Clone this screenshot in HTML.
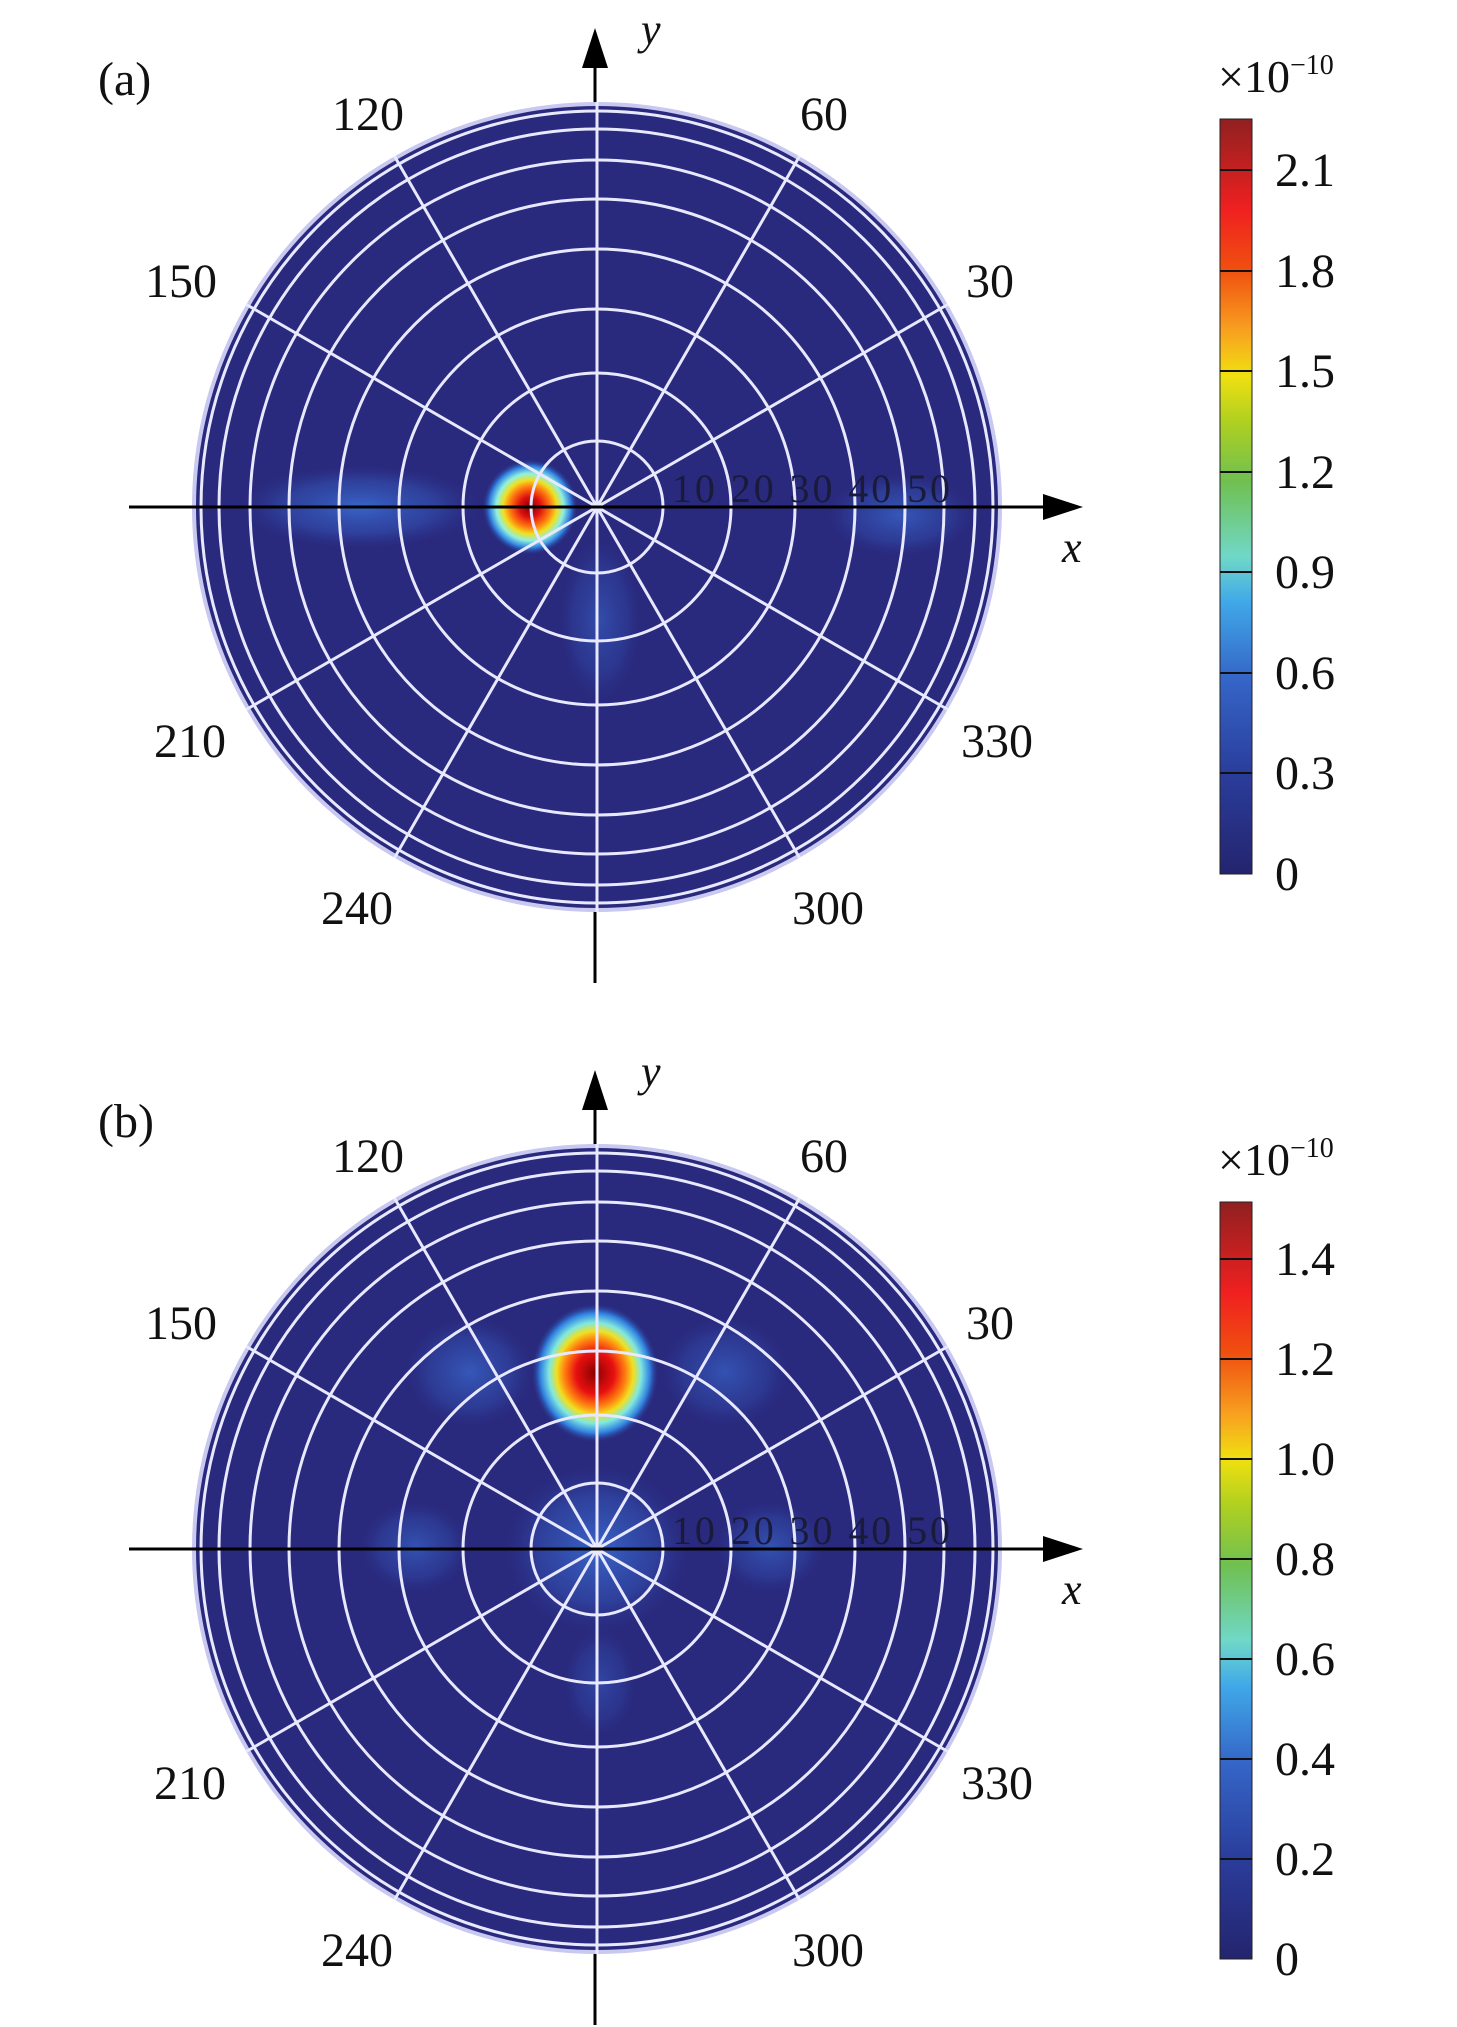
<!DOCTYPE html>
<html><head><meta charset="utf-8"><style>
html,body{margin:0;padding:0;background:#fff}
svg{display:block}
text{font-family:"Liberation Serif",serif;fill:#111}
</style></head><body>
<svg width="1457" height="2027" viewBox="0 0 1457 2027" xmlns="http://www.w3.org/2000/svg">
<defs>
<radialGradient id="hotA" cx="0.5" cy="0.5" r="0.5">
<stop offset="0" stop-color="#7a0000"/>
<stop offset="0.22" stop-color="#e01010"/>
<stop offset="0.42" stop-color="#ff7a10"/>
<stop offset="0.56" stop-color="#f0e020"/>
<stop offset="0.7" stop-color="#90f0e0"/>
<stop offset="0.85" stop-color="#3080e0"/>
<stop offset="1" stop-color="#29297d" stop-opacity="0"/>
</radialGradient>
<radialGradient id="hotB" cx="0.5" cy="0.5" r="0.5">
<stop offset="0" stop-color="#8a0000"/>
<stop offset="0.3" stop-color="#e81010"/>
<stop offset="0.48" stop-color="#ff8010"/>
<stop offset="0.6" stop-color="#f0e020"/>
<stop offset="0.72" stop-color="#80e8e0"/>
<stop offset="0.86" stop-color="#3080e0"/>
<stop offset="1" stop-color="#29297d" stop-opacity="0"/>
</radialGradient>
<radialGradient id="soft" cx="0.5" cy="0.5" r="0.5">
<stop offset="0" stop-color="#3a6ad0" stop-opacity="0.9"/>
<stop offset="0.6" stop-color="#3456b8" stop-opacity="0.5"/>
<stop offset="1" stop-color="#29297d" stop-opacity="0"/>
</radialGradient>
<linearGradient id="cbA" x1="0" y1="1" x2="0" y2="0">
<stop offset="0" stop-color="#24246e"/>
<stop offset="0.13" stop-color="#2a3c9a"/>
<stop offset="0.26" stop-color="#3566c8"/>
<stop offset="0.36" stop-color="#40a8e8"/>
<stop offset="0.42" stop-color="#70d8c8"/>
<stop offset="0.52" stop-color="#70c050"/>
<stop offset="0.6" stop-color="#b0d020"/>
<stop offset="0.66" stop-color="#f0e010"/>
<stop offset="0.72" stop-color="#f8a020"/>
<stop offset="0.8" stop-color="#f05010"/>
<stop offset="0.88" stop-color="#f02020"/>
<stop offset="1" stop-color="#902020"/>
</linearGradient>
</defs>

<!-- PANEL A -->
<g>
<line x1="595" y1="50" x2="595" y2="983" stroke="#000" stroke-width="3"/>
<polygon points="595,28 582,68 608,68" fill="#000"/>
<circle cx="597" cy="507" r="405" fill="#c8c8f0"/>
<circle cx="597" cy="507" r="401" fill="#29297d"/>
<ellipse cx="360" cy="507" rx="130" ry="45" fill="url(#soft)"/>
<ellipse cx="900" cy="515" rx="80" ry="45" fill="url(#soft)" opacity="0.8"/>
<ellipse cx="600" cy="620" rx="45" ry="90" fill="url(#soft)" opacity="0.6"/>
<ellipse cx="530" cy="507" rx="48" ry="48" fill="url(#hotA)"/>
<g transform="translate(597,507)" fill="none" stroke="#e8e8ff" stroke-width="3">
<circle r="66"/><circle r="134"/><circle r="198"/><circle r="258"/><circle r="308"/><circle r="347"/><circle r="378"/><circle r="396"/>
<line x1="-350.7" y1="-202.5" x2="350.7" y2="202.5"/>
<line x1="-202.5" y1="-350.7" x2="202.5" y2="350.7"/>
<line x1="0" y1="-405" x2="0" y2="405"/>
<line x1="202.5" y1="-350.7" x2="-202.5" y2="350.7"/>
<line x1="350.7" y1="-202.5" x2="-350.7" y2="202.5"/>
</g>
<line x1="129" y1="507" x2="1050" y2="507" stroke="#000" stroke-width="3"/>
<polygon points="1083,507 1043,494 1043,520" fill="#000"/>
<text x="672" y="502" font-size="40" textLength="278" style="fill:#1a1a3a">10 20 30 40 50</text>
<text x="98" y="95" font-size="48">(a)</text>
<text x="641" y="44" font-size="44" font-style="italic">y</text>
<text x="1062" y="562" font-size="44" font-style="italic">x</text>
<g font-size="48" text-anchor="middle">
<text x="368" y="130">120</text><text x="824" y="130">60</text>
<text x="181" y="297">150</text><text x="990" y="297">30</text>
<text x="190" y="757">210</text><text x="997" y="757">330</text>
<text x="357" y="924">240</text><text x="828" y="924">300</text>
</g>
<rect x="1220" y="119" width="32" height="755" fill="url(#cbA)" stroke="#222" stroke-width="1"/>
<g stroke="#111" stroke-width="2">
<line x1="1220" y1="773" x2="1252" y2="773"/><line x1="1220" y1="673" x2="1252" y2="673"/>
<line x1="1220" y1="572" x2="1252" y2="572"/><line x1="1220" y1="472" x2="1252" y2="472"/>
<line x1="1220" y1="371" x2="1252" y2="371"/><line x1="1220" y1="271" x2="1252" y2="271"/>
<line x1="1220" y1="170" x2="1252" y2="170"/>
</g>
<g font-size="48">
<text x="1275" y="890">0</text><text x="1275" y="789">0.3</text><text x="1275" y="689">0.6</text>
<text x="1275" y="588">0.9</text><text x="1275" y="488">1.2</text><text x="1275" y="387">1.5</text>
<text x="1275" y="287">1.8</text><text x="1275" y="186">2.1</text>
</g>
<text x="1218" y="92" font-size="46">×10<tspan dy="-18" font-size="28">−10</tspan></text>
</g>

<!-- PANEL B -->
<g transform="translate(0,1042)">
<line x1="595" y1="50" x2="595" y2="983" stroke="#000" stroke-width="3"/>
<polygon points="595,28 582,68 608,68" fill="#000"/>
<circle cx="597" cy="507" r="405" fill="#c8c8f0"/>
<circle cx="597" cy="507" r="401" fill="#29297d"/>
<ellipse cx="597" cy="507" rx="100" ry="90" fill="url(#soft)"/>
<ellipse cx="470" cy="330" rx="70" ry="60" fill="url(#soft)" opacity="0.8"/>
<ellipse cx="725" cy="330" rx="70" ry="60" fill="url(#soft)" opacity="0.7"/>
<ellipse cx="415" cy="505" rx="60" ry="50" fill="url(#soft)" opacity="0.7"/>
<ellipse cx="770" cy="505" rx="60" ry="50" fill="url(#soft)" opacity="0.7"/>
<ellipse cx="600" cy="640" rx="40" ry="60" fill="url(#soft)" opacity="0.5"/>
<ellipse cx="595" cy="331" rx="64" ry="70" fill="url(#hotB)"/>
<g transform="translate(597,507)" fill="none" stroke="#e8e8ff" stroke-width="3">
<circle r="66"/><circle r="134"/><circle r="198"/><circle r="258"/><circle r="308"/><circle r="347"/><circle r="378"/><circle r="396"/>
<line x1="-350.7" y1="-202.5" x2="350.7" y2="202.5"/>
<line x1="-202.5" y1="-350.7" x2="202.5" y2="350.7"/>
<line x1="0" y1="-405" x2="0" y2="405"/>
<line x1="202.5" y1="-350.7" x2="-202.5" y2="350.7"/>
<line x1="350.7" y1="-202.5" x2="-350.7" y2="202.5"/>
</g>
<line x1="129" y1="507" x2="1050" y2="507" stroke="#000" stroke-width="3"/>
<polygon points="1083,507 1043,494 1043,520" fill="#000"/>
<text x="672" y="502" font-size="40" textLength="278" style="fill:#1a1a3a">10 20 30 40 50</text>
<text x="98" y="95" font-size="48">(b)</text>
<text x="641" y="44" font-size="44" font-style="italic">y</text>
<text x="1062" y="562" font-size="44" font-style="italic">x</text>
<g font-size="48" text-anchor="middle">
<text x="368" y="130">120</text><text x="824" y="130">60</text>
<text x="181" y="297">150</text><text x="990" y="297">30</text>
<text x="190" y="757">210</text><text x="997" y="757">330</text>
<text x="357" y="924">240</text><text x="828" y="924">300</text>
</g>
<rect x="1220" y="160" width="32" height="757" fill="url(#cbA)" stroke="#222" stroke-width="1"/>
<g stroke="#111" stroke-width="2">
<line x1="1220" y1="817" x2="1252" y2="817"/><line x1="1220" y1="717" x2="1252" y2="717"/>
<line x1="1220" y1="617" x2="1252" y2="617"/><line x1="1220" y1="517" x2="1252" y2="517"/>
<line x1="1220" y1="417" x2="1252" y2="417"/><line x1="1220" y1="317" x2="1252" y2="317"/>
<line x1="1220" y1="217" x2="1252" y2="217"/>
</g>
<g font-size="48">
<text x="1275" y="933">0</text><text x="1275" y="833">0.2</text><text x="1275" y="733">0.4</text>
<text x="1275" y="633">0.6</text><text x="1275" y="533">0.8</text><text x="1275" y="433">1.0</text>
<text x="1275" y="333">1.2</text><text x="1275" y="233">1.4</text>
</g>
<text x="1218" y="133" font-size="46">×10<tspan dy="-18" font-size="28">−10</tspan></text>
</g>
</svg>
</body></html>
